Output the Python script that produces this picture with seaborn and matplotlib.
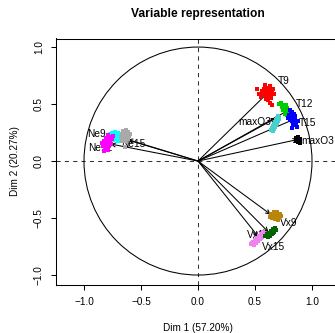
import numpy as np
import pandas as pd
import matplotlib
matplotlib.use("Agg")
import matplotlib.pyplot as plt
from matplotlib.patches import Circle
import seaborn as sns

# ---------------- data ----------------
variables = ["maxO3", "T9", "T12", "T15", "Ne9", "Ne12", "Ne15",
             "Vx9", "Vx12", "Vx15", "maxO3v"]
dim1 = [0.88, 0.66, 0.80, 0.85, -0.70, -0.77, -0.62, 0.64, 0.53, 0.62, 0.69]
dim2 = [0.19, 0.645, 0.45, 0.37, 0.21, 0.15, 0.19, -0.47, -0.665, -0.625, 0.38]

label_x = [0.91, 0.70, 0.86, 0.886, -0.97, -0.965, -0.675, 0.72, 0.43, 0.56, 0.35]
label_y = [0.18, 0.70, 0.50, 0.335, 0.237, 0.114, 0.149, -0.54, -0.65, -0.755, 0.34]

colors = ["black", "red", "#00CD00", "blue", "cyan", "magenta", "#A9A9A9",
          "#B8860B", "#EE82EE", "#006400", "#48D1CC"]

# bootstrap clouds
cloud_maxO3_x = [0.860, 0.877, 0.895, 0.868, 0.886, 0.877, 0.895, 0.860, 0.877]
cloud_maxO3_y = [0.202, 0.211, 0.193, 0.184, 0.175, 0.167, 0.158, 0.175, 0.193]

cloud_T9_x = [0.614, 0.588, 0.632, 0.596, 0.649, 0.570, 0.623, 0.605, 0.640, 0.579,
              0.658, 0.561, 0.518, 0.535, 0.614, 0.632, 0.649, 0.596, 0.667, 0.553,
              0.632, 0.588, 0.605, 0.623, 0.579, 0.640, 0.596, 0.614]
cloud_T9_y = [0.596, 0.614, 0.579, 0.570, 0.605, 0.588, 0.623, 0.640, 0.553, 0.632,
              0.632, 0.614, 0.632, 0.588, 0.535, 0.509, 0.491, 0.544, 0.588, 0.561,
              0.658, 0.667, 0.588, 0.570, 0.596, 0.614, 0.623, 0.561]

cloud_T12_x = [0.728, 0.746, 0.763, 0.781, 0.754, 0.772, 0.789, 0.737, 0.798, 0.763,
               0.781, 0.711, 0.746, 0.807, 0.772, 0.789]
cloud_T12_y = [0.509, 0.491, 0.474, 0.465, 0.456, 0.439, 0.430, 0.474, 0.447, 0.412,
               0.404, 0.500, 0.447, 0.421, 0.491, 0.395]

cloud_T15_x = [0.807, 0.825, 0.842, 0.798, 0.816, 0.833, 0.851, 0.807, 0.825, 0.842,
               0.860, 0.833, 0.868, 0.789, 0.851, 0.825, 0.877, 0.816]
cloud_T15_y = [0.447, 0.430, 0.412, 0.404, 0.386, 0.377, 0.368, 0.360, 0.351, 0.342,
               0.325, 0.316, 0.298, 0.377, 0.395, 0.289, 0.351, 0.421]

cloud_Ne9_x = [-0.754, -0.728, -0.702, -0.684, -0.711, -0.737, -0.763, -0.693, -0.719,
               -0.746, -0.675, -0.702, -0.772, -0.667]
cloud_Ne9_y = [0.246, 0.254, 0.246, 0.228, 0.219, 0.211, 0.219, 0.202, 0.193, 0.184,
               0.184, 0.175, 0.237, 0.211]

cloud_Ne12_x = [-0.789, -0.772, -0.807, -0.754, -0.789, -0.825, -0.772, -0.798, -0.816,
                -0.781, -0.833, -0.798, -0.763, -0.807, -0.825, -0.789, -0.746, -0.842]
cloud_Ne12_y = [0.228, 0.211, 0.202, 0.193, 0.184, 0.175, 0.167, 0.158, 0.140, 0.140,
                0.132, 0.123, 0.149, 0.105, 0.088, 0.096, 0.219, 0.158]

cloud_Ne15_x = [-0.658, -0.632, -0.614, -0.640, -0.667, -0.623, -0.649, -0.605, -0.675,
                -0.632, -0.658, -0.614, -0.640, -0.667, -0.640, -0.596]
cloud_Ne15_y = [0.263, 0.272, 0.254, 0.246, 0.237, 0.228, 0.219, 0.219, 0.211, 0.202,
                0.193, 0.193, 0.175, 0.175, 0.123, 0.237]

cloud_Vx9_x = [0.640, 0.667, 0.693, 0.719, 0.658, 0.684, 0.711, 0.649, 0.675, 0.702,
               0.728, 0.632]
cloud_Vx9_y = [-0.465, -0.447, -0.447, -0.465, -0.482, -0.474, -0.491, -0.500, -0.509,
               -0.518, -0.482, -0.491]

cloud_Vx12_x = [0.570, 0.553, 0.579, 0.535, 0.561, 0.518, 0.544, 0.500, 0.526, 0.482,
                0.509, 0.465, 0.491, 0.474, 0.553]
cloud_Vx12_y = [-0.623, -0.640, -0.649, -0.658, -0.667, -0.675, -0.684, -0.693, -0.702,
                -0.711, -0.719, -0.728, -0.737, -0.719, -0.675]

cloud_Vx15_x = [0.675, 0.658, 0.684, 0.640, 0.667, 0.623, 0.649, 0.605, 0.632, 0.588,
                0.614, 0.658]
cloud_Vx15_y = [-0.588, -0.596, -0.605, -0.614, -0.623, -0.632, -0.640, -0.640, -0.658,
                -0.658, -0.667, -0.632]

cloud_maxO3v_x = [0.702, 0.693, 0.711, 0.684, 0.702, 0.675, 0.693, 0.667, 0.684, 0.658,
                  0.675, 0.649, 0.667, 0.640, 0.658, 0.711]
cloud_maxO3v_y = [0.395, 0.377, 0.368, 0.360, 0.351, 0.342, 0.333, 0.325, 0.316, 0.307,
                  0.298, 0.289, 0.281, 0.272, 0.263, 0.386]

title = "Variable representation"
xlabel = "Dim 1 (57.20%)"
ylabel = "Dim 2 (20.27%)"
ticks = [-1.0, -0.5, 0.0, 0.5, 1.0]
tick_labels = ["\u22121.0", "\u22120.5", "0.0", "0.5", "1.0"]

# ---------------- build tables ----------------
clouds = {
    "maxO3": (cloud_maxO3_x, cloud_maxO3_y),
    "T9": (cloud_T9_x, cloud_T9_y),
    "T12": (cloud_T12_x, cloud_T12_y),
    "T15": (cloud_T15_x, cloud_T15_y),
    "Ne9": (cloud_Ne9_x, cloud_Ne9_y),
    "Ne12": (cloud_Ne12_x, cloud_Ne12_y),
    "Ne15": (cloud_Ne15_x, cloud_Ne15_y),
    "Vx9": (cloud_Vx9_x, cloud_Vx9_y),
    "Vx12": (cloud_Vx12_x, cloud_Vx12_y),
    "Vx15": (cloud_Vx15_x, cloud_Vx15_y),
    "maxO3v": (cloud_maxO3v_x, cloud_maxO3v_y),
}
rows = []
for v in variables:
    cx, cy = clouds[v]
    for a, b in zip(cx, cy):
        rows.append((v, a, b))
cloud_df = pd.DataFrame(rows, columns=["variable", "Dim1", "Dim2"])
palette = dict(zip(variables, colors))

# ---------------- plot ----------------
sns.set_theme(style="white")
plt.rcParams["font.family"] = ["Liberation Sans", "DejaVu Sans"]

W, H = 335, 333
fig = plt.figure(figsize=(W / 100, H / 100), dpi=100)
fig.patch.set_facecolor("white")
ax = fig.add_axes([56 / W, 48.5 / H, 284 / W, 246 / H])
ax.set_facecolor("white")

ax.set_xlim(-1.2456, 1.2456)
ax.set_ylim(-1.083, 1.075)

lw = 0.75
ax.axhline(0, color="#333333", lw=lw, ls=(0, (4, 4)), zorder=1)
ax.axvline(0, color="#333333", lw=lw, ls=(0, (4, 4)), zorder=1)
ax.add_patch(Circle((0, 0), 1.0, fill=False, ec="black", lw=lw, zorder=2))

for v, x, y in zip(variables, dim1, dim2):
    ax.annotate("", xy=(x, y), xytext=(0, 0),
                arrowprops=dict(arrowstyle="->,head_length=0.25,head_width=0.12",
                                lw=lw, color="black", shrinkA=0, shrinkB=0),
                zorder=3)

for v, lx, ly in zip(variables, label_x, label_y):
    ax.text(lx, ly, v, ha="left", va="center", fontsize=7.3, color="black", zorder=4)

sns.scatterplot(data=cloud_df, x="Dim1", y="Dim2", hue="variable", palette=palette,
                hue_order=variables, marker="s", s=6, linewidth=0, legend=False,
                ax=ax, zorder=5)

for s in ax.spines.values():
    s.set_color("black")
    s.set_linewidth(lw)

ax.set_xticks(ticks)
ax.set_xticklabels(tick_labels)
ax.set_yticks(ticks)
ax.set_yticklabels(tick_labels, rotation=90, va="center")
ax.tick_params(axis="both", direction="out", length=3.8, width=lw, color="black",
               labelsize=7.2, labelcolor="black", pad=5, bottom=True, left=True)

ax.set_xlabel(xlabel, fontsize=7.2, color="black")
ax.set_ylabel(ylabel, fontsize=7.2, color="black")
ax.xaxis.label.set_va("center")
ax.yaxis.label.set_va("center")
ax.xaxis.set_label_coords(0.5, -0.177)
ax.yaxis.set_label_coords(-0.144, 0.5)

ax.text(0.5, 1.0996, title, transform=ax.transAxes, ha="center", va="center",
        fontsize=8.64, fontweight="bold", color="black")

fig.savefig("out.png", dpi=100, facecolor="white")
